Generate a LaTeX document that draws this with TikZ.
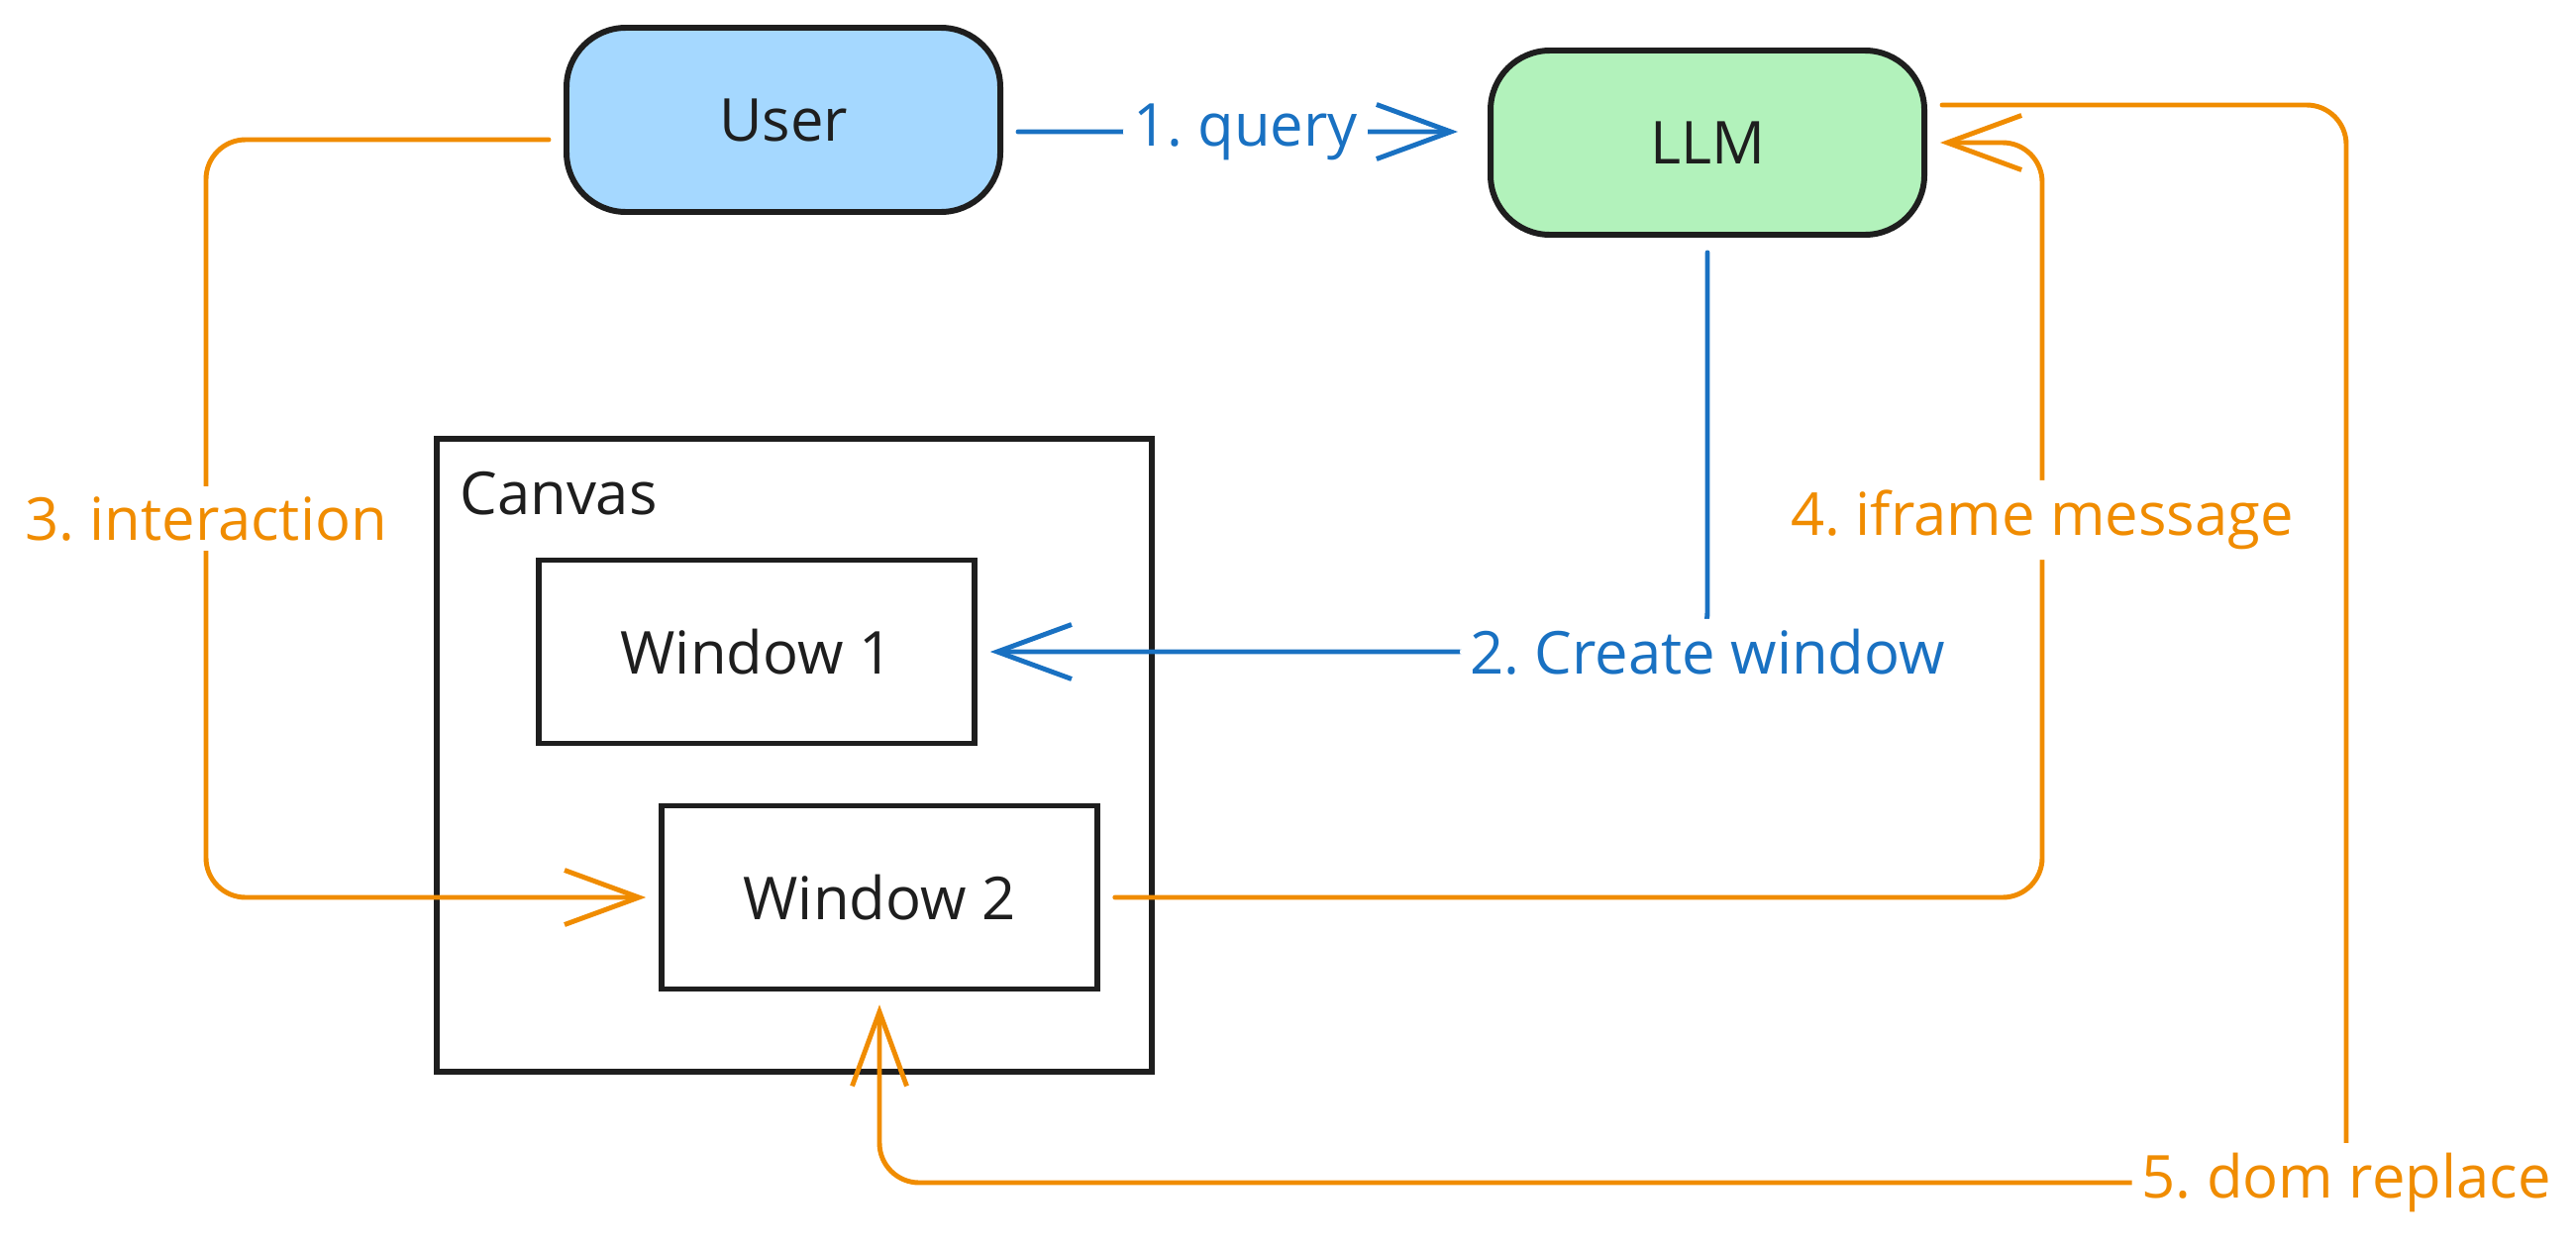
\documentclass[tikz,border=0pt]{standalone}
\usepackage{fontspec}
\setmainfont{Open Sans}
\usetikzlibrary{arrows.meta}
\definecolor{inkblack}{HTML}{1E1E1E}
\definecolor{flowblue}{HTML}{1971C2}
\definecolor{floworange}{HTML}{F08C00}
\definecolor{userfill}{HTML}{A5D8FF}
\definecolor{llmfill}{HTML}{B2F2BB}
\frenchspacing
\begin{document}
\begin{tikzpicture}[
    every node/.style={font=\fontsize{17}{20}\selectfont, text=inkblack},
    actor/.style={draw=inkblack, line width=1.7pt, rounded corners=6mm,
        minimum width=4.38cm, minimum height=1.86cm},
    winbox/.style={draw=inkblack, line width=1.6pt,
        minimum width=4.4cm, minimum height=1.85cm},
    flow/.style={line width=1.4pt, rounded corners=4mm, line cap=round,
        -{Straight Barb[length=7.5mm, width=5.5mm, line width=1.4pt]},
        shorten <=1.5mm, shorten >=1.3mm},
    blueflow/.style={flow, draw=flowblue},
    orangeflow/.style={flow, draw=floworange},
    bluelabel/.style={fill=white, inner sep=1mm, text=flowblue},
    orangelabel/.style={fill=white, inner sep=1mm, text=floworange}
]
    \useasboundingbox (0, 0) rectangle (26.01, 12.63);
    % boxes
    \node [actor, fill=userfill] (user) at (7.91, 11.42) {User};
    \node [actor, fill=llmfill] (llm) at (17.24, 11.19) {LLM};
    \draw [inkblack, line width=1.6pt] (4.41, 1.81) rectangle (11.63, 8.20);
    \node [anchor=west] (canvas) at (4.52, 7.65) {Canvas};
    \node [winbox] (win1) at (7.64, 6.05) {Window 1};
    \node [winbox] (win2) at (8.88, 3.57) {Window 2};
    % lanes
    \coordinate (leftlane) at (2.08, 0);
    \coordinate (midlane) at (20.62, 0);
    \coordinate (bottomlane) at (23.69, 0.69);
    % flows
    \draw [blueflow, shorten >=3mm] ([yshift=-1.2mm]user.east) --
        node [bluelabel] {1. query} ([yshift=1.1mm]llm.west);
    \draw [blueflow] (llm.south) |-
        node [bluelabel, pos=0.5] {2. Create window} (win1.east);
    \draw [orangeflow] ([yshift=-2mm]user.west) -|
        node [orangelabel, pos=0.75] {3. interaction} (leftlane |- win2.west)
        -- (win2.west);
    \draw [orangeflow] (win2.east) -|
        node [orangelabel, pos=0.75] {4. iframe message} (midlane |- llm.east)
        -- (llm.east);
    \draw [orangeflow] ([yshift=3.8mm]llm.east) -| (bottomlane)
        node [orangelabel] {5. dom replace} -| (win2.south);
\end{tikzpicture}
\end{document}
